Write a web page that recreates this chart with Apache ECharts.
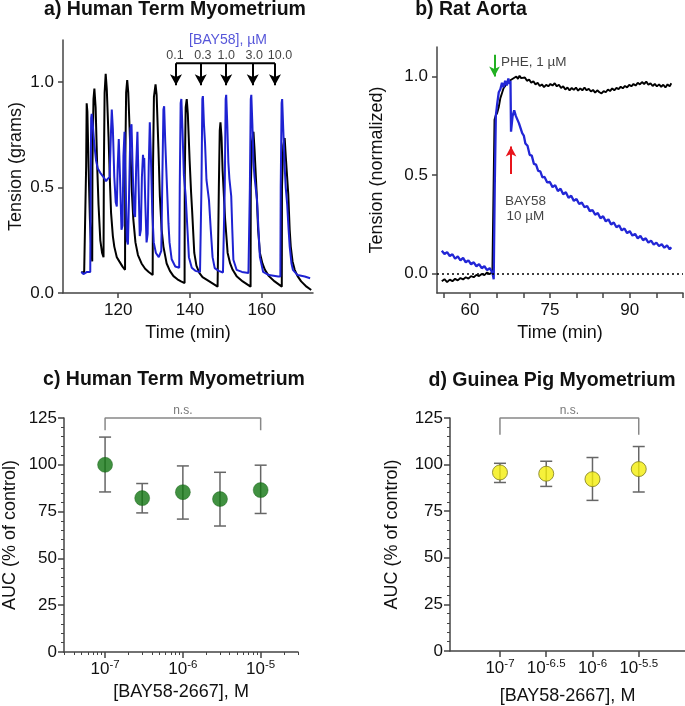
<!DOCTYPE html>
<html><head><meta charset="utf-8">
<script src="https://cdn.jsdelivr.net/npm/echarts@6/dist/echarts.min.js"></script>
<style>html,body{margin:0;padding:0;background:#fff}#c{width:685px;height:706px}</style>
</head><body><div id="c"></div>
<script>
const FONT = "'Liberation Sans', Arial, sans-serif";

// ---------- Panel a: Human Term Myometrium traces (time min, tension g) ----------
const aBlackTrace = [[109.7,0.10],[110.5,0.095],[111.0,0.10],[111.05,0.6],[111.2,0.90],[111.4,0.86],[111.7,0.62],[112.1,0.35],[112.5,0.2],[112.75,0.15],[112.8,0.6],[113.1,0.92],[113.35,0.97],[113.7,0.88],[114.1,0.62],[114.5,0.42],[115.0,0.25],[115.5,0.19],[115.9,0.17],[116.0,0.6],[116.2,0.95],[116.5,1.04],[116.8,0.97],[117.3,0.74],[117.7,0.52],[118.0,0.38],[118.5,0.27],[118.9,0.22],[119.6,0.17],[120.3,0.15],[121.2,0.125],[121.9,0.11],[121.95,0.6],[122.2,0.95],[122.5,1.01],[122.8,0.95],[123.3,0.72],[123.8,0.48],[124.2,0.35],[124.8,0.24],[125.5,0.18],[126.5,0.14],[127.5,0.115],[128.5,0.1],[129.6,0.085],[129.7,0.6],[129.95,0.93],[130.4,0.99],[130.7,0.94],[131.2,0.69],[131.6,0.46],[132.1,0.30],[132.6,0.22],[133.5,0.14],[134.4,0.105],[135.4,0.08],[136.5,0.065],[137.5,0.055],[138.5,0.047],[138.55,0.55],[138.8,0.88],[139.1,0.92],[139.4,0.85],[139.9,0.63],[140.3,0.48],[140.6,0.39],[141.2,0.19],[141.8,0.13],[142.6,0.095],[143.5,0.075],[145.4,0.055],[147.7,0.03],[148.0,0.03],[148.05,0.5],[148.3,0.77],[148.5,0.81],[148.8,0.74],[149.1,0.58],[149.8,0.35],[150.5,0.19],[151.2,0.14],[151.9,0.11],[153.0,0.08],[154.7,0.055],[156.9,0.03],[156.95,0.5],[157.3,0.72],[157.7,0.765],[158.0,0.68],[158.6,0.47],[159.0,0.3],[159.5,0.19],[160.2,0.14],[160.9,0.11],[162.0,0.08],[163.6,0.055],[165.6,0.03],[165.65,0.5],[166.0,0.70],[166.4,0.735],[166.7,0.65],[167.4,0.47],[167.8,0.3],[168.1,0.22],[168.6,0.15],[169.2,0.11],[170.0,0.08],[171.0,0.055],[172.5,0.03],[173.8,0.014]];
const aBlueTrace = [[109.7,0.10],[110.3,0.09],[110.8,0.095],[111.3,0.10],[112.2,0.10],[112.3,0.5],[112.45,0.83],[112.6,0.85],[112.9,0.80],[113.3,0.71],[113.8,0.63],[114.3,0.59],[115.0,0.57],[115.9,0.55],[116.6,0.53],[117.0,0.54],[117.6,0.55],[117.8,0.55],[117.95,0.75],[118.2,0.87],[118.5,0.78],[118.9,0.55],[119.3,0.43],[119.6,0.41],[119.85,0.6],[120.15,0.73],[120.5,0.55],[120.9,0.30],[121.2,0.32],[121.45,0.65],[121.75,0.765],[122.1,0.5],[122.4,0.25],[122.7,0.23],[123.0,0.45],[123.4,0.78],[123.7,0.80],[124.0,0.6],[124.4,0.38],[124.7,0.36],[125.0,0.6],[125.35,0.765],[125.7,0.5],[126.0,0.27],[126.3,0.3],[126.6,0.55],[126.9,0.655],[127.1,0.62],[127.25,0.64],[127.5,0.45],[127.9,0.24],[128.2,0.28],[128.5,0.6],[128.8,0.81],[129.1,0.65],[129.5,0.38],[129.9,0.24],[130.5,0.19],[131.3,0.17],[132.0,0.2],[132.3,0.55],[132.6,0.87],[132.8,0.886],[133.1,0.72],[133.6,0.50],[134.0,0.33],[134.3,0.24],[134.9,0.16],[135.9,0.126],[137.0,0.12],[137.15,0.5],[137.4,0.90],[137.6,0.92],[137.9,0.78],[138.3,0.56],[138.8,0.46],[139.3,0.3],[139.7,0.17],[140.5,0.12],[141.5,0.105],[142.8,0.10],[143.1,0.10],[143.2,0.5],[143.45,0.92],[143.6,0.934],[143.9,0.8],[144.2,0.71],[144.6,0.536],[145.3,0.44],[145.8,0.30],[146.3,0.17],[146.9,0.118],[148.0,0.105],[149.2,0.097],[149.6,0.1],[149.7,0.5],[149.95,0.92],[150.1,0.94],[150.4,0.8],[150.7,0.62],[151.0,0.54],[151.5,0.46],[151.8,0.3],[152.1,0.158],[153.0,0.11],[154.5,0.1],[156.3,0.095],[156.6,0.095],[156.7,0.5],[156.95,0.92],[157.1,0.94],[157.4,0.8],[157.7,0.62],[158.0,0.55],[158.7,0.44],[159.1,0.3],[159.5,0.17],[160.4,0.10],[162.0,0.085],[164.6,0.078],[165.2,0.078],[165.3,0.5],[165.55,0.9],[165.7,0.92],[166.0,0.78],[166.4,0.6],[166.7,0.5],[167.1,0.42],[167.5,0.3],[167.8,0.22],[168.3,0.14],[168.7,0.11],[170.0,0.085],[172.0,0.078],[173.5,0.07]];
const aDoseTimes = [136.1, 143.0, 150.1, 157.5, 163.7];
const aDoseLabels = ['0.1', '0.3', '1.0', '3.0', '10.0'];
const aDoseLabelTimes = [135.8, 143.6, 150.1, 157.9, 165.1];
const aTimeTicks = [120, 140, 160];
const aTensionTicks = [0, 0.5, 1.0];

// ---------- Panel b: Rat Aorta traces (time min, normalized tension) ----------
const bBlackTrace = [[54.7,-0.04],[55.2,-0.03],[55.7,-0.045],[56.2,-0.032],[56.7,-0.04],[57.2,-0.028],[57.7,-0.036],[58.2,-0.024],[58.7,-0.031],[59.2,-0.02],[59.7,-0.027],[60.2,-0.014],[60.7,-0.02],[61.2,-0.008],[61.7,-0.014],[62.2,-0.003],[62.7,-0.009],[63.2,0.004],[63.7,-0.004],[64.2,0.006],[64.5,0.0],[64.6,0.78],[64.8,0.80],[65.1,0.815],[65.4,0.845],[65.7,0.89],[66.0,0.915],[66.3,0.94],[66.6,0.952],[66.9,0.968],[67.2,0.962],[67.5,0.98],[67.8,0.972],[68.1,0.99],[68.4,0.982],[68.7,1.0],[69.0,0.988],[69.3,1.004],[69.6,0.992],[69.9,0.982],[70.3,0.995],[70.7,0.978],[71.1,0.985],[71.5,0.968],[71.9,0.976],[72.3,0.96],[72.7,0.968],[73.1,0.952],[73.5,0.96],[73.9,0.946],[74.3,0.958],[74.7,0.95],[75.1,0.962],[75.5,0.954],[75.9,0.966],[76.3,0.95],[76.7,0.958],[77.1,0.942],[77.5,0.95],[77.9,0.934],[78.3,0.944],[78.7,0.93],[79.1,0.942],[79.5,0.932],[79.9,0.944],[80.3,0.928],[80.7,0.94],[81.1,0.93],[81.5,0.944],[81.9,0.93],[82.3,0.938],[82.7,0.924],[83.1,0.932],[83.5,0.918],[83.9,0.93],[84.3,0.92],[84.7,0.914],[85.1,0.926],[85.5,0.92],[85.9,0.934],[86.3,0.926],[86.7,0.94],[87.1,0.93],[87.5,0.942],[87.9,0.936],[88.3,0.948],[88.7,0.94],[89.1,0.952],[89.5,0.945],[89.9,0.958],[90.3,0.95],[90.7,0.962],[91.1,0.954],[91.5,0.968],[91.9,0.96],[92.3,0.972],[92.7,0.962],[93.1,0.974],[93.5,0.958],[93.9,0.966],[94.3,0.952],[94.7,0.962],[95.1,0.95],[95.5,0.96],[95.9,0.948],[96.3,0.958],[96.7,0.944],[97.1,0.96],[97.5,0.95],[97.8,0.966]];
const bBlueTrace = [[54.7,0.115],[55.2,0.098],[55.7,0.108],[56.2,0.088],[56.7,0.097],[57.2,0.074],[57.7,0.086],[58.2,0.066],[58.7,0.078],[59.2,0.056],[59.7,0.066],[60.2,0.046],[60.7,0.056],[61.2,0.036],[61.7,0.047],[62.2,0.026],[62.7,0.036],[63.2,0.016],[63.7,0.026],[64.2,0.004],[64.45,-0.03],[64.65,0.45],[64.85,0.8],[65.1,0.86],[65.4,0.92],[65.7,0.935],[66.0,0.968],[66.3,0.945],[66.6,0.978],[66.9,0.955],[67.2,0.99],[67.45,0.962],[67.6,0.978],[67.7,0.72],[67.85,0.76],[68.0,0.80],[68.3,0.828],[68.6,0.8],[68.9,0.798],[69.2,0.762],[69.5,0.758],[69.8,0.712],[70.1,0.7],[70.4,0.66],[70.8,0.648],[71.2,0.602],[71.6,0.598],[72.0,0.556],[72.4,0.552],[72.8,0.52],[73.2,0.518],[73.6,0.488],[74.0,0.49],[74.5,0.462],[75.0,0.464],[75.5,0.438],[76.0,0.448],[76.5,0.418],[77.0,0.43],[77.5,0.402],[78.0,0.412],[78.5,0.384],[79.0,0.394],[79.5,0.368],[80.0,0.378],[80.5,0.352],[81.0,0.36],[81.5,0.336],[82.0,0.342],[82.5,0.316],[83.0,0.322],[83.5,0.298],[84.0,0.306],[84.5,0.28],[85.0,0.29],[85.5,0.264],[86.0,0.274],[86.5,0.248],[87.0,0.258],[87.5,0.234],[88.0,0.244],[88.5,0.218],[89.0,0.228],[89.5,0.204],[90.0,0.214],[90.5,0.192],[91.0,0.2],[91.5,0.178],[92.0,0.19],[92.5,0.168],[93.0,0.178],[93.5,0.156],[94.0,0.166],[94.5,0.146],[95.0,0.156],[95.5,0.138],[96.0,0.148],[96.5,0.13],[97.0,0.142],[97.5,0.122],[97.8,0.132]];
const bTimeTicks = [55, 60, 65, 70, 75, 80, 85, 90, 95, 100];
const bTimeLabels = [60, 75, 90];
const bTensionTicks = [0, 0.5, 1.0];
const bPheTime = 64.6;
const bBayTime = 67.7;

// ---------- Panel c: Human Term Myometrium AUC ----------
const cConcM = [1e-7, 3e-7, 1e-6, 3e-6, 1e-5];
const cMean = [100, 82.2, 85.4, 81.7, 86.5];
const cLow  = [85.5, 74.3, 71.0, 67.3, 74.0];
const cHigh = [114.8, 90.0, 99.4, 96.0, 99.8];
const cLogTicks = [-7, -6, -5];

// ---------- Panel d: Guinea Pig Myometrium AUC ----------
const dLogConc = [-7, -6.5, -6, -5.5];
const dMean = [95.8, 95.1, 92.2, 97.6];
const dLow  = [90.4, 88.3, 80.8, 85.3];
const dHigh = [100.7, 101.8, 103.8, 109.7];
const dLogTicks = [-7, -6.5, -6, -5.5];

// ---------- helpers ----------
const AX = '#444';
function axisBase(extra) {
  return Object.assign({
    type: 'value',
    axisLine: { show: true, onZero: false, lineStyle: { color: AX, width: 1.5 } },
    axisTick: { show: true, length: 5, lineStyle: { color: AX, width: 1.5 } },
    axisLabel: { fontSize: 17, color: '#111', fontFamily: FONT, margin: 9 },
    splitLine: { show: false },
    nameLocation: 'middle',
    nameTextStyle: { fontSize: 18, color: '#111', fontFamily: FONT }
  }, extra);
}
function supLabel(v) {
  return '{b|10}{s|' + String(v) + '}';
}
const supRich = {
  b: { fontSize: 17, lineHeight: 20, color: '#111', fontFamily: FONT },
  s: { fontSize: 11.5, lineHeight: 11, verticalAlign: 'top', color: '#111', fontFamily: FONT }
};
function logMinorTicks(lo, hi) {
  const out = [];
  for (let n = -9; n <= -3; n++) {
    for (let k = 2; k <= 9; k++) {
      const v = n + Math.log10(k);
      if (v > lo && v < hi) out.push(v);
    }
  }
  return out;
}
function textSeries(xi, yi, items) {
  return {
    type: 'scatter', xAxisIndex: xi, yAxisIndex: yi, symbol: 'circle', symbolSize: 1,
    itemStyle: { color: 'rgba(0,0,0,0)' }, clip: false, silent: true, z: 10,
    data: items.map(it => ({
      value: it.pos,
      label: {
        show: true, position: 'inside', formatter: it.text, color: it.color || '#111',
        fontSize: it.size || 13, fontFamily: FONT, align: it.align || 'center',
        verticalAlign: 'middle', lineHeight: it.lineHeight || 15
      }
    }))
  };
}
function errorBarSeries(xi, yi, xs, lo, hi, z) {
  return {
    type: 'custom', xAxisIndex: xi, yAxisIndex: yi, silent: true, z: z,
    data: xs.map((x, i) => [x, lo[i], hi[i]]),
    encode: { x: 0, y: [1, 2] },
    renderItem: function (params, api) {
      const top = api.coord([api.value(0), api.value(2)]);
      const bot = api.coord([api.value(0), api.value(1)]);
      const w = 6;
      const st = { stroke: '#666', lineWidth: 1.5 };
      return { type: 'group', children: [
        { type: 'line', shape: { x1: top[0], y1: top[1], x2: bot[0], y2: bot[1] }, style: st },
        { type: 'line', shape: { x1: top[0] - w, y1: top[1], x2: top[0] + w, y2: top[1] }, style: st },
        { type: 'line', shape: { x1: bot[0] - w, y1: bot[1], x2: bot[0] + w, y2: bot[1] }, style: st }
      ]};
    }
  };
}
function bracketSeries(xi, yi, x1, x2, yLow, yTop) {
  return {
    type: 'line', xAxisIndex: xi, yAxisIndex: yi, symbol: 'none', clip: false, silent: true,
    lineStyle: { color: '#888', width: 1.5 },
    data: [[x1, yLow], [x1, yTop], [x2, yTop], [x2, yLow]]
  };
}

const cLog = cConcM.map(c => Math.log10(c));
const TITLE_STYLE = { fontSize: 19.5, fontWeight: 'bold', color: '#111', fontFamily: FONT };

const option = {
  animation: false,
  backgroundColor: '#fff',
  textStyle: { fontFamily: FONT },
  title: [
    { text: 'a) Human Term Myometrium', left: 175, top: 0, textAlign: 'center', padding: 0, textStyle: TITLE_STYLE },
    { text: 'b) Rat Aorta', left: 471, top: 0, textAlign: 'center', padding: 0, textStyle: TITLE_STYLE },
    { text: 'c) Human Term Myometrium', left: 174, top: 370, textAlign: 'center', padding: 0, textStyle: TITLE_STYLE },
    { text: 'd) Guinea Pig Myometrium', left: 552, top: 371, textAlign: 'center', padding: 0, textStyle: TITLE_STYLE }
  ],
  grid: [
    { left: 63, top: 40, width: 250, height: 253 },
    { left: 437, top: 47, width: 246, height: 246 },
    { left: 63, top: 418, width: 235, height: 234 },
    { left: 450, top: 418, width: 240, height: 234 }
  ],
  xAxis: [
    axisBase({ gridIndex: 0, min: 104.6, max: 174.3,
      axisTick: { show: true, customValues: aTimeTicks, length: 5, lineStyle: { color: AX, width: 1.5 } },
      axisLabel: { customValues: aTimeTicks, fontSize: 17, color: '#111', fontFamily: FONT, margin: 9 },
      name: 'Time (min)', nameGap: 31 }),
    axisBase({ gridIndex: 1, min: 53.8, max: 100,
      axisTick: { show: true, customValues: bTimeTicks, length: 5, lineStyle: { color: AX, width: 1.5 } },
      axisLabel: { customValues: bTimeLabels, fontSize: 17, color: '#111', fontFamily: FONT, margin: 9 },
      name: 'Time (min)', nameGap: 31 }),
    axisBase({ gridIndex: 2, min: -7.528, max: -4.52,
      axisTick: { show: true, customValues: cLogTicks, length: 6, lineStyle: { color: AX, width: 1.5 } },
      axisLabel: { customValues: cLogTicks, formatter: supLabel, rich: supRich, margin: 7 },
      name: '[BAY58-2667], M', nameGap: 31 }),
    axisBase({ gridIndex: 2, min: -7.528, max: -4.52, position: 'top', offset: -234,
      axisLine: { show: false },
      axisTick: { show: true, inside: true, customValues: logMinorTicks(-7.528, -4.52), length: 3, lineStyle: { color: AX, width: 1 } },
      axisLabel: { show: false } }),
    axisBase({ gridIndex: 3, min: -7.54, max: -5.0,
      axisTick: { show: true, customValues: dLogTicks, length: 6, lineStyle: { color: AX, width: 1.5 } },
      axisLabel: { customValues: dLogTicks, formatter: supLabel, rich: supRich, margin: 7 },
      name: '[BAY58-2667], M', nameGap: 36 })
  ],
  yAxis: [
    axisBase({ gridIndex: 0, min: 0, max: 1.2,
      axisTick: { show: true, customValues: aTensionTicks, length: 5, lineStyle: { color: AX, width: 1.5 } },
      axisLabel: { customValues: aTensionTicks, formatter: v => v.toFixed(1), fontSize: 17, color: '#111', fontFamily: FONT, margin: 9 },
      name: 'Tension (grams)', nameGap: 38 }),
    axisBase({ gridIndex: 1, min: -0.1, max: 1.15,
      axisTick: { show: true, customValues: bTensionTicks, length: 5, lineStyle: { color: AX, width: 1.5 } },
      axisLabel: { customValues: bTensionTicks, formatter: v => v.toFixed(1), fontSize: 17, color: '#111', fontFamily: FONT, margin: 9 },
      name: 'Tension (normalized)', nameGap: 51 }),
    axisBase({ gridIndex: 2, min: 0, max: 125, interval: 25,
      axisTick: { show: true, length: 6, lineStyle: { color: AX, width: 1.5 } },
      minorTick: { show: true, splitNumber: 5, length: 3, lineStyle: { color: AX, width: 1 } },
      axisLabel: { fontSize: 17, color: '#111', fontFamily: FONT, margin: 7 },
      name: 'AUC (% of control)', nameGap: 45 }),
    axisBase({ gridIndex: 3, min: 0, max: 125, interval: 25,
      axisTick: { show: true, length: 6, lineStyle: { color: AX, width: 1.5 } },
      minorTick: { show: true, splitNumber: 5, length: 3, lineStyle: { color: AX, width: 1 } },
      axisLabel: { fontSize: 17, color: '#111', fontFamily: FONT, margin: 7 },
      name: 'AUC (% of control)', nameGap: 49 })
  ],
  series: [
    // ----- panel a -----
    { type: 'line', xAxisIndex: 0, yAxisIndex: 0, data: aBlackTrace, showSymbol: false, symbol: 'none',
      lineStyle: { color: '#000', width: 2 }, z: 2, silent: true },
    { type: 'line', xAxisIndex: 0, yAxisIndex: 0, data: aBlueTrace, showSymbol: false, symbol: 'none',
      lineStyle: { color: '#1e22d2', width: 2 }, z: 3, silent: true },
    { type: 'line', xAxisIndex: 0, yAxisIndex: 0, symbol: 'none', clip: false, silent: true, z: 5,
      lineStyle: { color: '#000', width: 2 },
      data: [[aDoseTimes[0], 1.09], [aDoseTimes[aDoseTimes.length - 1], 1.09]],
      markLine: {
        silent: true, symbol: ['none', 'arrow'], symbolSize: [9, 11], label: { show: false },
        lineStyle: { color: '#000', width: 2, type: 'solid' },
        data: aDoseTimes.map(t => [{ coord: [t, 1.09] }, { coord: [t, 0.985] }])
      }
    },
    textSeries(0, 0, aDoseLabelTimes.map((t, i) => ({ pos: [t, 1.125], text: aDoseLabels[i], size: 12.5 }))
      .concat([{ pos: [150.6, 1.198], text: '[BAY58], µM', color: '#2b2bd0', size: 14 }])),
    // ----- panel b -----
    { type: 'line', xAxisIndex: 1, yAxisIndex: 1, data: bBlackTrace, showSymbol: false, symbol: 'none',
      lineStyle: { color: '#000', width: 1.9 }, z: 2, silent: true,
      markLine: { silent: true, symbol: ['none', 'none'], label: { show: false },
        lineStyle: { color: '#000', width: 1.5, type: [2, 3] }, data: [{ yAxis: 0 }] } },
    { type: 'line', xAxisIndex: 1, yAxisIndex: 1, data: bBlueTrace, showSymbol: false, symbol: 'none',
      lineStyle: { color: '#2226d6', width: 2.3 }, z: 3, silent: true },
    { type: 'line', xAxisIndex: 1, yAxisIndex: 1, data: [], symbol: 'none', silent: true, z: 6,
      markLine: { silent: true, symbol: ['none', 'arrow'], symbolSize: [8, 10], label: { show: false },
        data: [
          [{ coord: [bPheTime, 1.11], lineStyle: { color: '#22b022', width: 2, type: 'solid' } }, { coord: [bPheTime, 1.0] }],
          [{ coord: [bBayTime, 0.505], lineStyle: { color: '#e8141b', width: 2, type: 'solid' } }, { coord: [bBayTime, 0.645] }]
        ] } },
    textSeries(1, 1, [
      { pos: [65.8, 1.07], text: 'PHE, 1 µM', size: 13.5, align: 'left' },
      { pos: [70.4, 0.328], text: 'BAY58\n10 µM', size: 13.5, lineHeight: 15 }
    ]),
    // ----- panel c -----
    errorBarSeries(2, 2, cLog, cLow, cHigh, 3),
    { type: 'scatter', xAxisIndex: 2, yAxisIndex: 2, data: cLog.map((x, i) => [x, cMean[i]]),
      symbol: 'circle', symbolSize: 15, itemStyle: { color: '#127512', borderColor: '#0e5a0e', borderWidth: 0.5 }, z: 4, silent: true },
    bracketSeries(2, 2, cLog[0], cLog[cLog.length - 1], 118.5, 125),
    textSeries(2, 2, [{ pos: [(cLog[0] + cLog[cLog.length - 1]) / 2, 128.8], text: 'n.s.', size: 12, color: '#555' }]),
    // ----- panel d -----
    errorBarSeries(4, 3, dLogConc, dLow, dHigh, 3),
    { type: 'scatter', xAxisIndex: 4, yAxisIndex: 3, data: dLogConc.map((x, i) => [x, dMean[i]]),
      symbol: 'circle', symbolSize: 15, itemStyle: { color: '#f4ee0a', borderColor: '#7d7a20', borderWidth: 1 }, z: 4, silent: true },
    bracketSeries(4, 3, dLogConc[0], dLogConc[dLogConc.length - 1], 116, 125),
    textSeries(4, 3, [{ pos: [(dLogConc[0] + dLogConc[dLogConc.length - 1]) / 2, 128.8], text: 'n.s.', size: 12, color: '#555' }])
  ]
};

const chart = echarts.init(document.getElementById('c'), null, { renderer: 'canvas' });
chart.setOption(option);
</script>
</body></html>
